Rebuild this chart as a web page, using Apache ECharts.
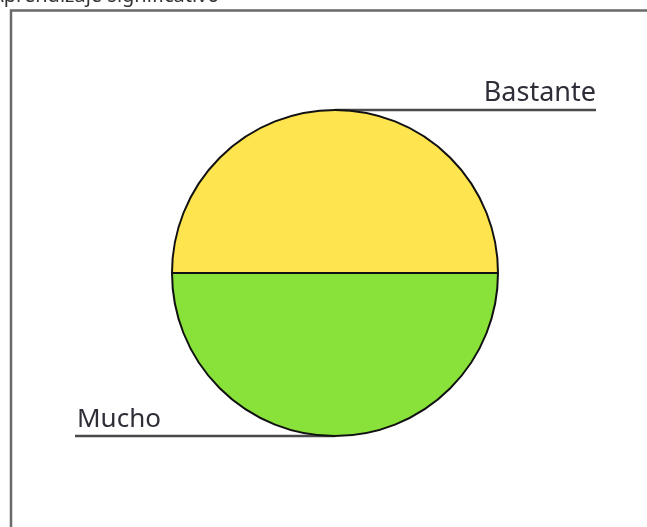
<!DOCTYPE html>
<html>
<head>
<meta charset="utf-8">
<script src="https://cdn.jsdelivr.net/npm/echarts@6/dist/echarts.min.js"></script>
<style>
  html, body { margin: 0; padding: 0; background: #fff; }
  #chart { width: 647px; height: 527px; }
</style>
</head>
<body>
<div id="chart"></div>
<script>
// Answer categories and their shares
const categories = ['Bastante', 'Mucho'];
const values = [50, 50];
const sliceColors = ['#FEE44E', '#89E23A'];
const chartTitle = 'Aprendizaje significativo';

const chart = echarts.init(document.getElementById('chart'), null, { renderer: 'canvas' });

// Horizontal anchor for each label: right end for the first, left end for the second
const labelAnchor = [596, 75];

const option = {
  backgroundColor: '#ffffff',
  animation: false,
  title: {
    text: chartTitle,
    left: -14,
    top: -19,
    textStyle: { fontFamily: 'Noto Sans', fontSize: 20, fontWeight: 'normal', color: '#333' }
  },
  graphic: [{
    type: 'rect',
    shape: { x: 11, y: 10.5, width: 660, height: 560 },
    style: { fill: 'none', stroke: '#6a6a6a', lineWidth: 2.5 },
    z: -1
  }],
  series: [{
    type: 'pie',
    center: [335, 273],
    radius: 163,
    startAngle: 180,
    clockwise: true,
    data: categories.map((name, i) => ({
      name: name,
      value: values[i],
      itemStyle: { color: sliceColors[i] }
    })),
    itemStyle: { borderColor: '#111', borderWidth: 2 },
    label: {
      show: true,
      formatter: '{b}',
      fontFamily: 'Noto Sans',
      fontSize: 26,
      color: '#2e2e38'
    },
    labelLine: {
      show: true,
      length: 0,
      length2: 0,
      lineStyle: { color: '#4a4a4a', width: 2.4 }
    },
    labelLayout: function (params) {
      const p = params.labelLinePoints;
      if (!p) return {};
      const edge = p[0];
      const i = params.dataIndex;
      const endX = labelAnchor[i];
      const line = [[edge[0], edge[1]], [edge[0], edge[1]], [endX, edge[1]]];
      if (i === 0) {
        return {
          x: endX, y: edge[1] - 3,
          align: 'right', verticalAlign: 'bottom',
          fontSize: 27,
          labelLinePoints: line
        };
      }
      return {
        x: endX + 2, y: edge[1] - 3,
        align: 'left', verticalAlign: 'bottom',
        labelLinePoints: line
      };
    }
  }]
};

chart.setOption(option);
</script>
</body>
</html>
